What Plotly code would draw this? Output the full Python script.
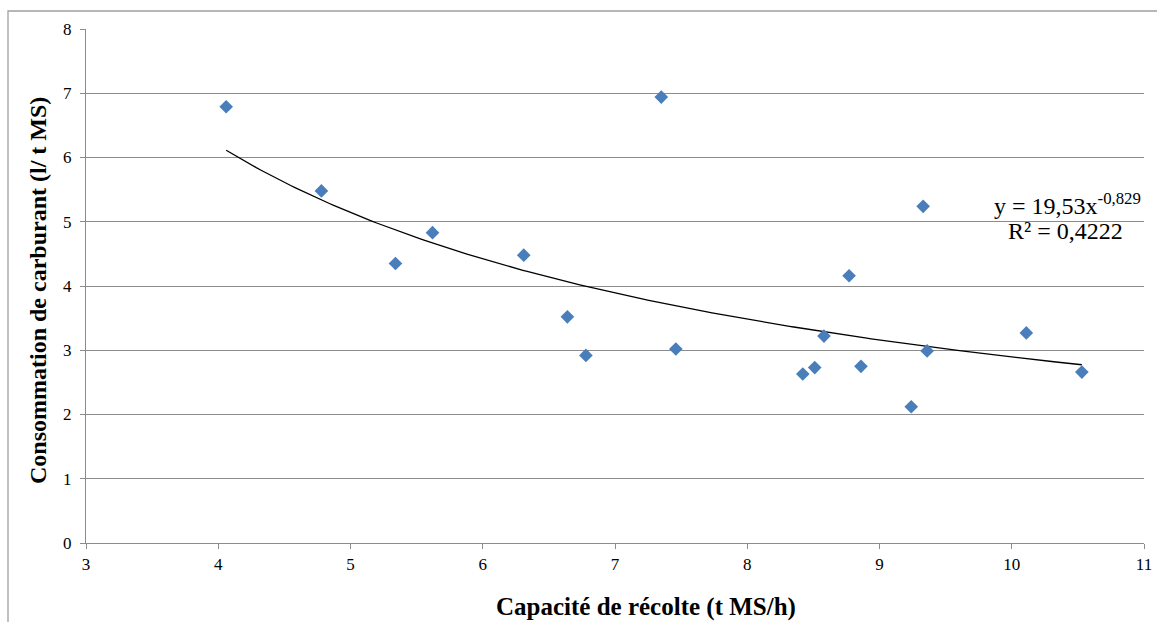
import numpy as np
import plotly.graph_objects as go

# Harvest capacity (t MS/h) and fuel consumption (l / t MS) per site
capacite = [4.06, 4.78, 5.34, 5.62, 6.31, 6.64, 6.78, 7.35, 7.46, 8.42,
            8.51, 8.58, 8.77, 8.86, 9.24, 9.33, 9.36, 10.11, 10.53]
consommation = [6.79, 5.48, 4.35, 4.83, 4.48, 3.52, 2.92, 6.94, 3.02, 2.63,
                2.73, 3.22, 4.16, 2.75, 2.12, 5.24, 2.99, 3.27, 2.66]

# Power trendline y = a * x^b
coef_a = 19.53
coef_b = -0.829
r2 = 0.4222

x_ticks = [3, 4, 5, 6, 7, 8, 9, 10, 11]
y_ticks = [0, 1, 2, 3, 4, 5, 6, 7, 8]

FONT = "Liberation Serif"
GRID = "#8c8c8c"

ML, MR, MT, MB = 86, 13, 29, 79
W, H = 1157, 622
PW, PH = W - ML - MR, H - MT - MB


def px(xp):
    return (xp - ML) / PW


def py(yp):
    return (H - MB - yp) / PH


xt = np.linspace(min(capacite), max(capacite), 200)
yt = coef_a * xt ** coef_b

fig = go.Figure()
fig.add_trace(go.Scatter(
    x=xt, y=yt, mode="lines",
    line=dict(color="black", width=1.3),
    hoverinfo="skip", showlegend=False,
))
fig.add_trace(go.Scatter(
    x=capacite, y=consommation, mode="markers",
    marker=dict(symbol="diamond", size=10.5, color="#4a7ebb"),
    showlegend=False,
))

fmt = lambda v: f"{v}".replace(".", ",")

fig.update_layout(
    template="none",
    width=W, height=H, autosize=False,
    margin=dict(l=ML, r=MR, t=MT, b=MB),
    paper_bgcolor="white", plot_bgcolor="white",
    font=dict(family=FONT, color="black"),
    xaxis=dict(
        range=[3, 11], tickvals=x_ticks, ticktext=[str(v) for v in x_ticks],
        showgrid=False, zeroline=False, automargin=False,
        showline=True, linecolor=GRID, linewidth=1.3,
        ticks="outside", ticklen=5, tickcolor=GRID, tickwidth=1.3,
        tickfont=dict(family=FONT, size=17, color="black"),
    ),
    yaxis=dict(
        range=[0, 8], tickvals=y_ticks, ticktext=[str(v) for v in y_ticks],
        showgrid=True, gridcolor=GRID, gridwidth=1.3, zeroline=False, automargin=False,
        showline=True, linecolor=GRID, linewidth=1.3,
        ticks="outside", ticklen=5, tickcolor=GRID, tickwidth=1.3,
        ticklabelstandoff=5,
        tickfont=dict(family=FONT, size=17, color="black"),
    ),
    shapes=[dict(
        type="rect", xref="paper", yref="paper",
        x0=px(8), x1=px(1175), y0=py(640), y1=py(11),
        line=dict(color="#a0a0a0", width=1.3), layer="below",
    )],
    annotations=[
        dict(text="<b>Capacité de récolte (t MS/h)</b>", xref="paper", yref="paper",
             x=px(646), y=py(607), xanchor="center", yanchor="middle",
             showarrow=False, font=dict(family=FONT, size=25, color="black")),
        dict(text="<b>Consommation de carburant (l/ t MS)</b>", xref="paper", yref="paper",
             x=px(38), y=py(291), xanchor="center", yanchor="middle", textangle=-90,
             showarrow=False, font=dict(family=FONT, size=24, color="black")),
        dict(text=f"y = {fmt(coef_a)}x<sup>{fmt(coef_b)}</sup>", xref="paper", yref="paper",
             x=px(992), y=py(203.5), xanchor="left", yanchor="middle",
             showarrow=False, font=dict(family=FONT, size=24, color="black")),
        dict(text=f"R² = {fmt(r2)}", xref="paper", yref="paper",
             x=px(1006), y=py(231), xanchor="left", yanchor="middle",
             showarrow=False, font=dict(family=FONT, size=24, color="black")),
    ],
)

fig.write_html("out.html")
